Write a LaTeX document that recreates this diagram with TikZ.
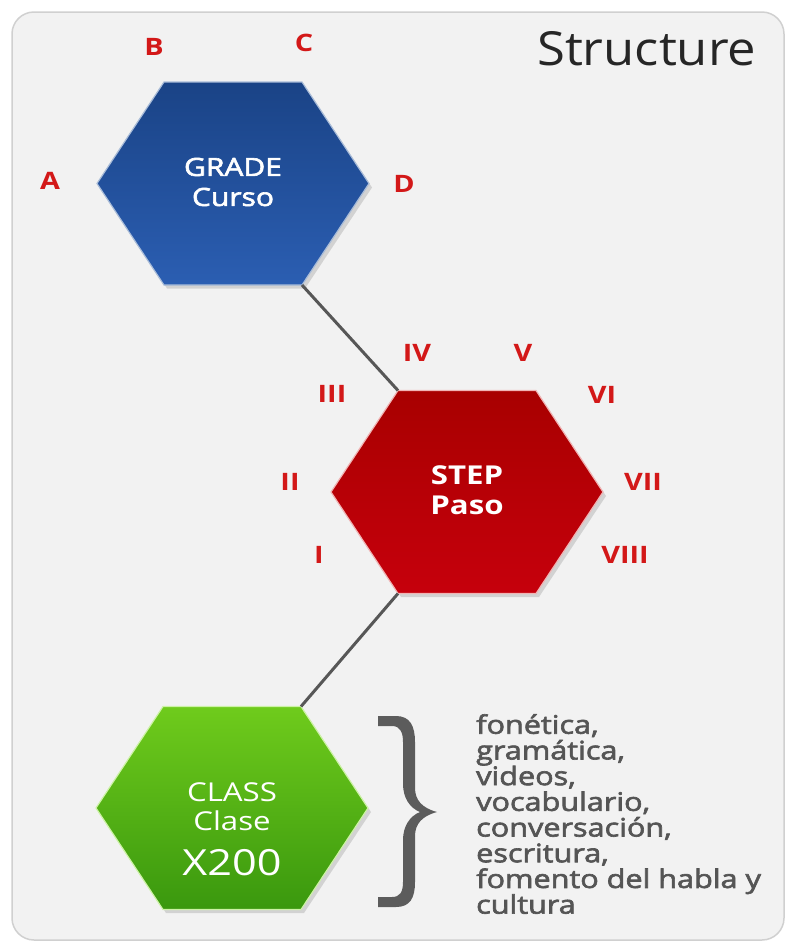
\documentclass[tikz,border=0pt]{standalone}
\usepackage{fontspec}
\setmainfont{Open Sans}
\newfontfamily\semib{Open Sans}[FakeBold=2.5,FakeStretch=1.2]
\newfontfamily\wide{Open Sans}[FakeStretch=1.2]
\newfontfamily\titlefont{Open Sans}[FakeStretch=1.08]
\definecolor{panelbg}{HTML}{F2F2F2}
\definecolor{panelbd}{HTML}{D0D0D0}
\definecolor{bluetop}{HTML}{1A4386}
\definecolor{bluebot}{HTML}{2B5EB2}
\definecolor{bluebd}{HTML}{A9BCD8}
\definecolor{redtop}{HTML}{A80000}
\definecolor{redbot}{HTML}{C6000C}
\definecolor{redbd}{HTML}{F0B4B4}
\definecolor{greentop}{HTML}{6FCB1C}
\definecolor{greenbot}{HTML}{3A980E}
\definecolor{greenbd}{HTML}{CDF2A6}
\definecolor{labred}{HTML}{D31818}
\definecolor{linkgray}{HTML}{575757}
\definecolor{textgray}{HTML}{555555}
\definecolor{bracegray}{HTML}{5C5C5C}
\tikzset{
  x=1pt, y=-1pt,
  pics/hexa/.style n args={3}{code={
    \fill[black,opacity=0.13] (-133,4) -- (-66,-97) -- (72,-97) -- (139,4) -- (72,105) -- (-66,105) -- cycle;
    \path[top color=#1,bottom color=#2,draw=#3,line width=1.2pt]
      (-136,0) -- (-69,-101.5) -- (69,-101.5) -- (136,0) -- (69,101.5) -- (-69,101.5) -- cycle;
    \coordinate (-tl) at (-69,-101.5);
    \coordinate (-tr) at (69,-101.5);
    \coordinate (-bl) at (-69,101.5);
    \coordinate (-br) at (69,101.5);
  }},
  link/.style={draw=linkgray,line width=3pt},
  hextext/.style={text=white,align=center,inner sep=0pt,font=\semib\fontsize{25}{30}\selectfont},
  lab/.style={text=labred,inner sep=0pt,font=\wide\bfseries\fontsize{24}{28}\selectfont},
  listtext/.style={text=textgray,align=left,inner sep=0pt,font=\semib\fontsize{25.5}{25.7}\selectfont}
}
\begin{document}
\begin{tikzpicture}
\useasboundingbox (0,0) rectangle (787,943);
\fill[white] (0,0) rectangle (787,943);
\path[fill=panelbg,draw=panelbd,line width=1.5pt,rounded corners=22pt] (12,12) rectangle (784,940);
\node[anchor=base west,inner sep=0pt,text=black!85,font=\titlefont\fontsize{47}{52}\selectfont] (title) at (537,65) {Structure};
% hexagons
\pic (blue) at (233,183.5) {hexa={bluetop}{bluebot}{bluebd}};
\pic (red) at (467,492) {hexa={redtop}{redbot}{redbd}};
\pic (green) at (232,808) {hexa={greentop}{greenbot}{greenbd}};
% connectors
\draw[link] (blue-br) -- (red-tl);
\draw[link] (red-bl) -- (green-tr);
% hex texts
\node[hextext] (grade) at (233,182) {GRADE\\Curso};
\node[hextext,font=\wide\bfseries\fontsize{26}{30}\selectfont] (step) at (467,490) {STEP\\Paso};
\node[hextext,font=\wide\fontsize{26}{29}\selectfont] (class) at (232,807) {CLASS\\Clase};
\node[text=white,inner sep=0pt,font=\wide\fontsize{36}{40}\selectfont] (x200) at (232,863) {X200};
% letter labels
\node[lab] (la) at (50,181) {A};
\node[lab] (lb) at (154,47) {B};
\node[lab] (lc) at (304,43) {C};
\node[lab] (ld) at (404,184) {D};
% roman labels
\node[lab] (r4) at (417,353) {IV};
\node[lab] (r5) at (523,353) {V};
\node[lab] (r3) at (332,394) {III};
\node[lab] (r6) at (602,395) {VI};
\node[lab] (r2) at (290,482) {II};
\node[lab] (r7) at (643,482) {VII};
\node[lab] (r1) at (319,555) {I};
\node[lab] (r8) at (625,555) {VIII};
% brace
\fill[bracegray] (378,716) -- (396,716) .. controls (410,716) and (415,726) .. (415,742)
  -- (415,788) .. controls (415,800) and (422,808) .. (437,812)
  .. controls (422,816) and (415,824) .. (415,836)
  -- (415,882) .. controls (415,898) and (410,907) .. (396,907) -- (378,907) -- (378,897)
  -- (392,897) .. controls (400,897) and (403,892) .. (403,882)
  -- (403,840) .. controls (403,826) and (410,816) .. (420,812)
  .. controls (410,808) and (403,798) .. (403,784)
  -- (403,742) .. controls (403,732) and (400,726) .. (392,726) -- (378,726) -- cycle;
% list
\node[listtext,anchor=north west] (topics) at (476,714) {fonética,\\gramática,\\videos,\\vocabulario,\\conversación,\\escritura,\\fomento del habla y\\cultura};
\end{tikzpicture}
\end{document}
